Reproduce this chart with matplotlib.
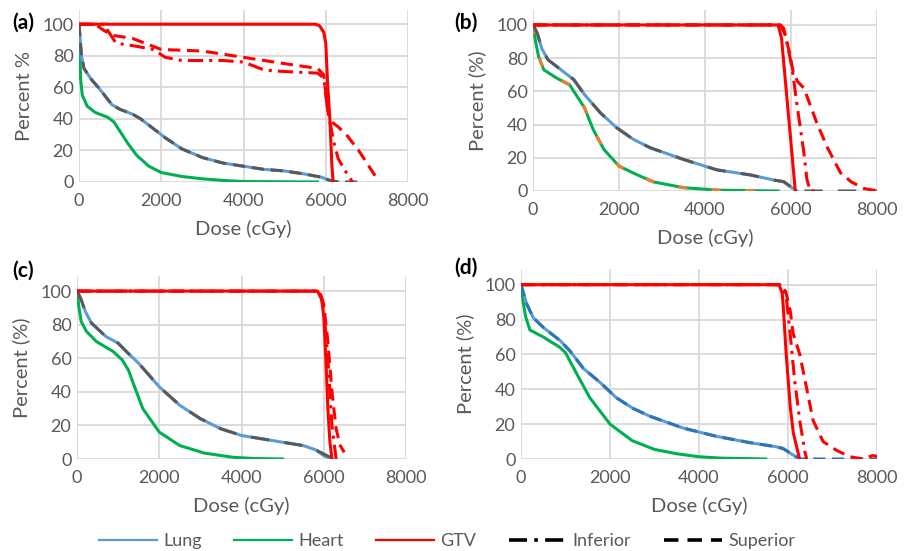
import matplotlib.pyplot as plt
from matplotlib.lines import Line2D

plt.rcParams['font.family'] = ['Lato', 'DejaVu Sans']

W, H = 909, 551
GRID = '#d9d9d9'
TXT = '#595959'
BLUE = '#5b9bd5'
GREEN = '#00b050'
RED = '#ff0000'
GRAY = '#595959'
ORANGE = '#ed7d31'

ticks_x = [0, 2000, 4000, 6000, 8000]
ticks_y = [0, 20, 40, 60, 80, 100]

# ---- panel (a)
a_lung_dose = [0, 30, 60, 120, 300, 500, 650, 800, 1000, 1300, 1500, 1800, 2100, 2500, 3000, 3500, 4000, 4500, 5000, 5500, 5900, 6100, 6300]
a_lung_pct = [100, 90, 80, 72, 65, 59, 54, 49, 46, 43, 40, 34, 28, 21, 15.5, 12, 10, 8, 7, 5, 3, 1, 0]
a_lung_sup_dose = a_lung_dose + [6800]
a_lung_sup_pct = a_lung_pct + [0]
a_heart_dose = [0, 20, 40, 80, 200, 400, 700, 850, 1000, 1200, 1400, 1700, 2000, 2500, 3000, 3500, 4000, 5800]
a_heart_pct = [100, 80, 65, 55, 48, 44, 41, 38, 32, 24, 17, 10, 6, 3.5, 2, 1, 0.3, 0]
a_gtv_dose = [0, 5750, 5850, 5950, 6000, 6050, 6100, 6150, 6180]
a_gtv_pct = [100, 100, 99, 95, 88, 60, 40, 10, 0]
a_inf_dose = [0, 600, 700, 900, 1400, 1800, 2100, 2500, 3500, 4000, 4500, 5000, 5800, 5950, 6050, 6100, 6200, 6300, 6450, 6600, 6650]
a_inf_pct = [100, 100, 96, 88, 86, 84, 79, 77, 77, 76, 71, 70, 69, 66, 45, 38, 25, 15, 8, 2, 0]
a_sup_dose = [0, 400, 550, 800, 1300, 1600, 2000, 3000, 4000, 5000, 5800, 5950, 6050, 6150, 6300, 6500, 6800, 7000, 7200]
a_sup_pct = [100, 100, 97, 93, 91, 88, 84, 83, 79, 75, 72, 68, 45, 38, 35, 30, 20, 12, 4]

# ---- panel (b)
b_lung_dose = [0, 100, 200, 350, 550, 950, 1200, 1570, 1950, 2340, 2730, 3500, 4280, 5050, 5600, 5830, 5990, 6140]
b_lung_pct = [100, 95, 86, 79, 75, 67, 58, 47, 38, 31, 26, 19, 12.7, 9.7, 6.6, 5.6, 2.6, 0]
b_lung_sup_dose = b_lung_dose + [8000]
b_lung_sup_pct = b_lung_pct + [0]
b_heart_dose = [0, 60, 130, 250, 550, 850, 1000, 1200, 1400, 1650, 2000, 2400, 2800, 3500, 4300, 5700]
b_heart_pct = [100, 90, 81, 73, 68, 64, 58, 50, 37, 25, 15, 10, 5.5, 2, 0.5, 0]
b_gtv_dose = [0, 5700, 5780, 6100]
b_gtv_pct = [100, 100, 92, 0]
b_inf_dose = [0, 5750, 5830, 5900, 6020, 6150, 6290, 6370, 6450, 6600]
b_inf_pct = [100, 100, 98, 90, 75, 50, 25, 7, 0, 0]
b_sup_dose = [0, 5750, 5850, 5950, 6050, 6150, 6300, 6600, 6850, 7150, 7400, 7700, 7900, 8100]
b_sup_pct = [100, 100, 95, 85, 72, 66, 62, 41, 26, 11, 5.5, 1.5, 0.5, 1]

# ---- panel (c)
c_lung_dose = [0, 100, 200, 350, 700, 1000, 1200, 1500, 2000, 2500, 3000, 3500, 4000, 4500, 5000, 5500, 5800, 6000, 6200]
c_lung_pct = [100, 95, 88, 81, 73, 69, 64, 57, 43, 32, 24, 18, 14, 12, 10, 8, 5.5, 2, 0]
c_lung_sup_dose = [0, 100, 200, 350, 700, 1000, 1200, 1500, 2000, 2500, 3000, 3500, 4000, 4500, 5000, 5500, 5800, 6000, 6200, 6550]
c_lung_sup_pct = [100, 95, 88, 81, 73, 69, 64, 57, 43, 32, 24, 18, 14, 12, 10, 8, 5.5, 3, 0.5, 0]
c_heart_dose = [0, 50, 100, 230, 470, 880, 1100, 1250, 1400, 1600, 2000, 2500, 3100, 3800, 4300, 5000]
c_heart_pct = [100, 90, 82, 76, 70, 64, 59, 53, 43, 30, 16, 8, 3.5, 1, 0.3, 0]
c_gtv_dose = [0, 5850, 5950, 6000, 6050, 6100, 6150, 6200]
c_gtv_pct = [100, 100, 95, 85, 60, 30, 10, 0]
c_inf_dose = [0, 5900, 6000, 6100, 6150, 6200, 6300]
c_inf_pct = [100, 100, 90, 60, 40, 20, 0]
c_sup_dose = [0, 5900, 6000, 6100, 6200, 6300, 6400, 6500]
c_sup_pct = [100, 100, 92, 70, 40, 18, 8, 4]

# ---- panel (d)
d_lung_dose = [0, 127, 277, 500, 875, 1100, 1400, 1774, 2150, 2520, 2900, 3650, 4390, 5140, 5740, 5890, 6115, 6265]
d_lung_pct = [100, 89, 81, 75.5, 68, 62, 52, 44, 35, 29, 24.5, 17.7, 13, 9.4, 7, 6, 2.3, 0]
d_lung_sup_dose = d_lung_dose + [8000]
d_lung_sup_pct = d_lung_pct + [0]
d_heart_dose = [0, 50, 100, 200, 500, 875, 1000, 1250, 1550, 2000, 2500, 3000, 3500, 4000, 4500, 5500]
d_heart_pct = [100, 90, 82, 74, 70, 64, 61, 49, 35, 20, 10.5, 5.5, 3, 1.3, 0.5, 0]
d_gtv_dose = [0, 5800, 5870, 5900, 5960, 6050, 6120, 6260]
d_gtv_pct = [100, 100, 95, 85, 60, 30, 15, 0]
d_inf_dose = [0, 5820, 5960, 6040, 6150, 6265, 6380, 6420]
d_inf_pct = [100, 100, 93, 74, 45, 22, 4, 0]
d_sup_dose = [0, 5820, 5950, 6050, 6115, 6265, 6415, 6565, 6790, 7090, 7390, 7690, 7900, 8100]
d_sup_pct = [100, 100, 96, 85, 72, 60, 41, 22, 10, 5, 1.3, 0, 2, 1]

DASH = (0, (4, 2.2))
DASHDOT = (0, (5, 2, 1, 2))
LW = 2.2


def make_axes(fig, l, t, r, b):
    return fig.add_axes([l / W, 1 - b / H, (r - l) / W, (b - t) / H])


def style(ax, ylab):
    ax.set_xlim(0, 8000)
    ax.set_ylim(0, 109)
    ax.set_xticks(ticks_x)
    ax.set_yticks(ticks_y)
    ax.grid(True, color=GRID, lw=1.3)
    ax.set_axisbelow(True)
    for s in ax.spines.values():
        s.set_visible(False)
    ax.tick_params(length=0, labelsize=13, labelcolor=TXT)
    ax.tick_params(axis='x', pad=8)
    ax.tick_params(axis='y', pad=4)
    ax.set_xlabel('Dose (cGy)', fontsize=14.5, color=TXT, labelpad=8)
    ax.set_ylabel(ylab, fontsize=14.5, color=TXT, labelpad=7)


fig = plt.figure(figsize=(W / 100, H / 100), dpi=100)

ax_a = make_axes(fig, 79, 10, 408, 182)
ax_b = make_axes(fig, 533, 10, 877, 191)
ax_c = make_axes(fig, 77, 276, 406, 459)
ax_d = make_axes(fig, 521, 269, 877, 459)

# (a)
ax_a.plot(a_heart_dose, a_heart_pct, color=GREEN, lw=LW)
ax_a.plot(a_lung_dose, a_lung_pct, color=BLUE, lw=LW)
ax_a.plot(a_lung_sup_dose, a_lung_sup_pct, color=GRAY, lw=LW, ls=DASH)
ax_a.plot(a_gtv_dose, a_gtv_pct, color=RED, lw=LW)
ax_a.plot(a_inf_dose, a_inf_pct, color=RED, lw=LW, ls=DASHDOT)
ax_a.plot(a_sup_dose, a_sup_pct, color=RED, lw=LW, ls=DASH)
style(ax_a, 'Percent %')

# (b)
ax_b.plot(b_heart_dose, b_heart_pct, color=GREEN, lw=LW)
ax_b.plot(b_heart_dose, b_heart_pct, color=ORANGE, lw=LW, ls=(0, (3, 8)))
ax_b.plot(b_lung_dose, b_lung_pct, color=BLUE, lw=LW)
ax_b.plot(b_lung_sup_dose, b_lung_sup_pct, color=GRAY, lw=LW, ls=(0, (6, 5)))
ax_b.plot(b_gtv_dose, b_gtv_pct, color=RED, lw=LW)
ax_b.plot(b_inf_dose, b_inf_pct, color=RED, lw=LW, ls=DASHDOT)
ax_b.plot(b_sup_dose, b_sup_pct, color=RED, lw=LW, ls=DASH)
style(ax_b, 'Percent (%)')

# (c)
ax_c.plot(c_heart_dose, c_heart_pct, color=GREEN, lw=LW)
ax_c.plot(c_lung_dose, c_lung_pct, color=BLUE, lw=LW)
ax_c.plot(c_lung_sup_dose, c_lung_sup_pct, color=GRAY, lw=LW, ls=(0, (6, 5)))
ax_c.plot(c_gtv_dose, c_gtv_pct, color=RED, lw=LW)
ax_c.plot(c_inf_dose, c_inf_pct, color=RED, lw=LW, ls=DASHDOT)
ax_c.plot(c_sup_dose, c_sup_pct, color=RED, lw=LW, ls=DASH)
style(ax_c, 'Percent (%)')

# (d)
ax_d.plot(d_heart_dose, d_heart_pct, color=GREEN, lw=LW)
ax_d.plot(d_lung_dose, d_lung_pct, color=BLUE, lw=LW)
ax_d.plot(d_lung_sup_dose, d_lung_sup_pct, color='#2e75b6', lw=LW, ls=DASH)
ax_d.plot(d_gtv_dose, d_gtv_pct, color=RED, lw=LW)
ax_d.plot(d_inf_dose, d_inf_pct, color=RED, lw=LW, ls=DASHDOT)
ax_d.plot(d_sup_dose, d_sup_pct, color=RED, lw=LW, ls=DASH)
style(ax_d, 'Percent (%)')

# panel letters
for lab, x, y in [('(a)', 12, 23), ('(b)', 454, 23), ('(c)', 12, 271), ('(d)', 454, 268)]:
    fig.text(x / W, 1 - y / H, lab, fontsize=15, fontweight='bold', va='center', ha='left')

handles = [
    Line2D([], [], color=BLUE, lw=1.6),
    Line2D([], [], color=GREEN, lw=1.6),
    Line2D([], [], color=RED, lw=1.6),
    Line2D([], [], color='black', lw=2.6, ls=(0, (5, 2, 1, 2))),
    Line2D([], [], color='black', lw=2.6, ls=(0, (4, 2.5))),
]
labels = ['Lung', 'Heart', 'GTV', 'Inferior', 'Superior']
fig.legend(handles, labels, loc='center', bbox_to_anchor=(447 / W, 1 - 541 / H), ncol=5,
           frameon=False, fontsize=13, handlelength=3.2, columnspacing=1.8,
           handletextpad=0.35, labelcolor=TXT)

fig.savefig('out.png', dpi=100)
